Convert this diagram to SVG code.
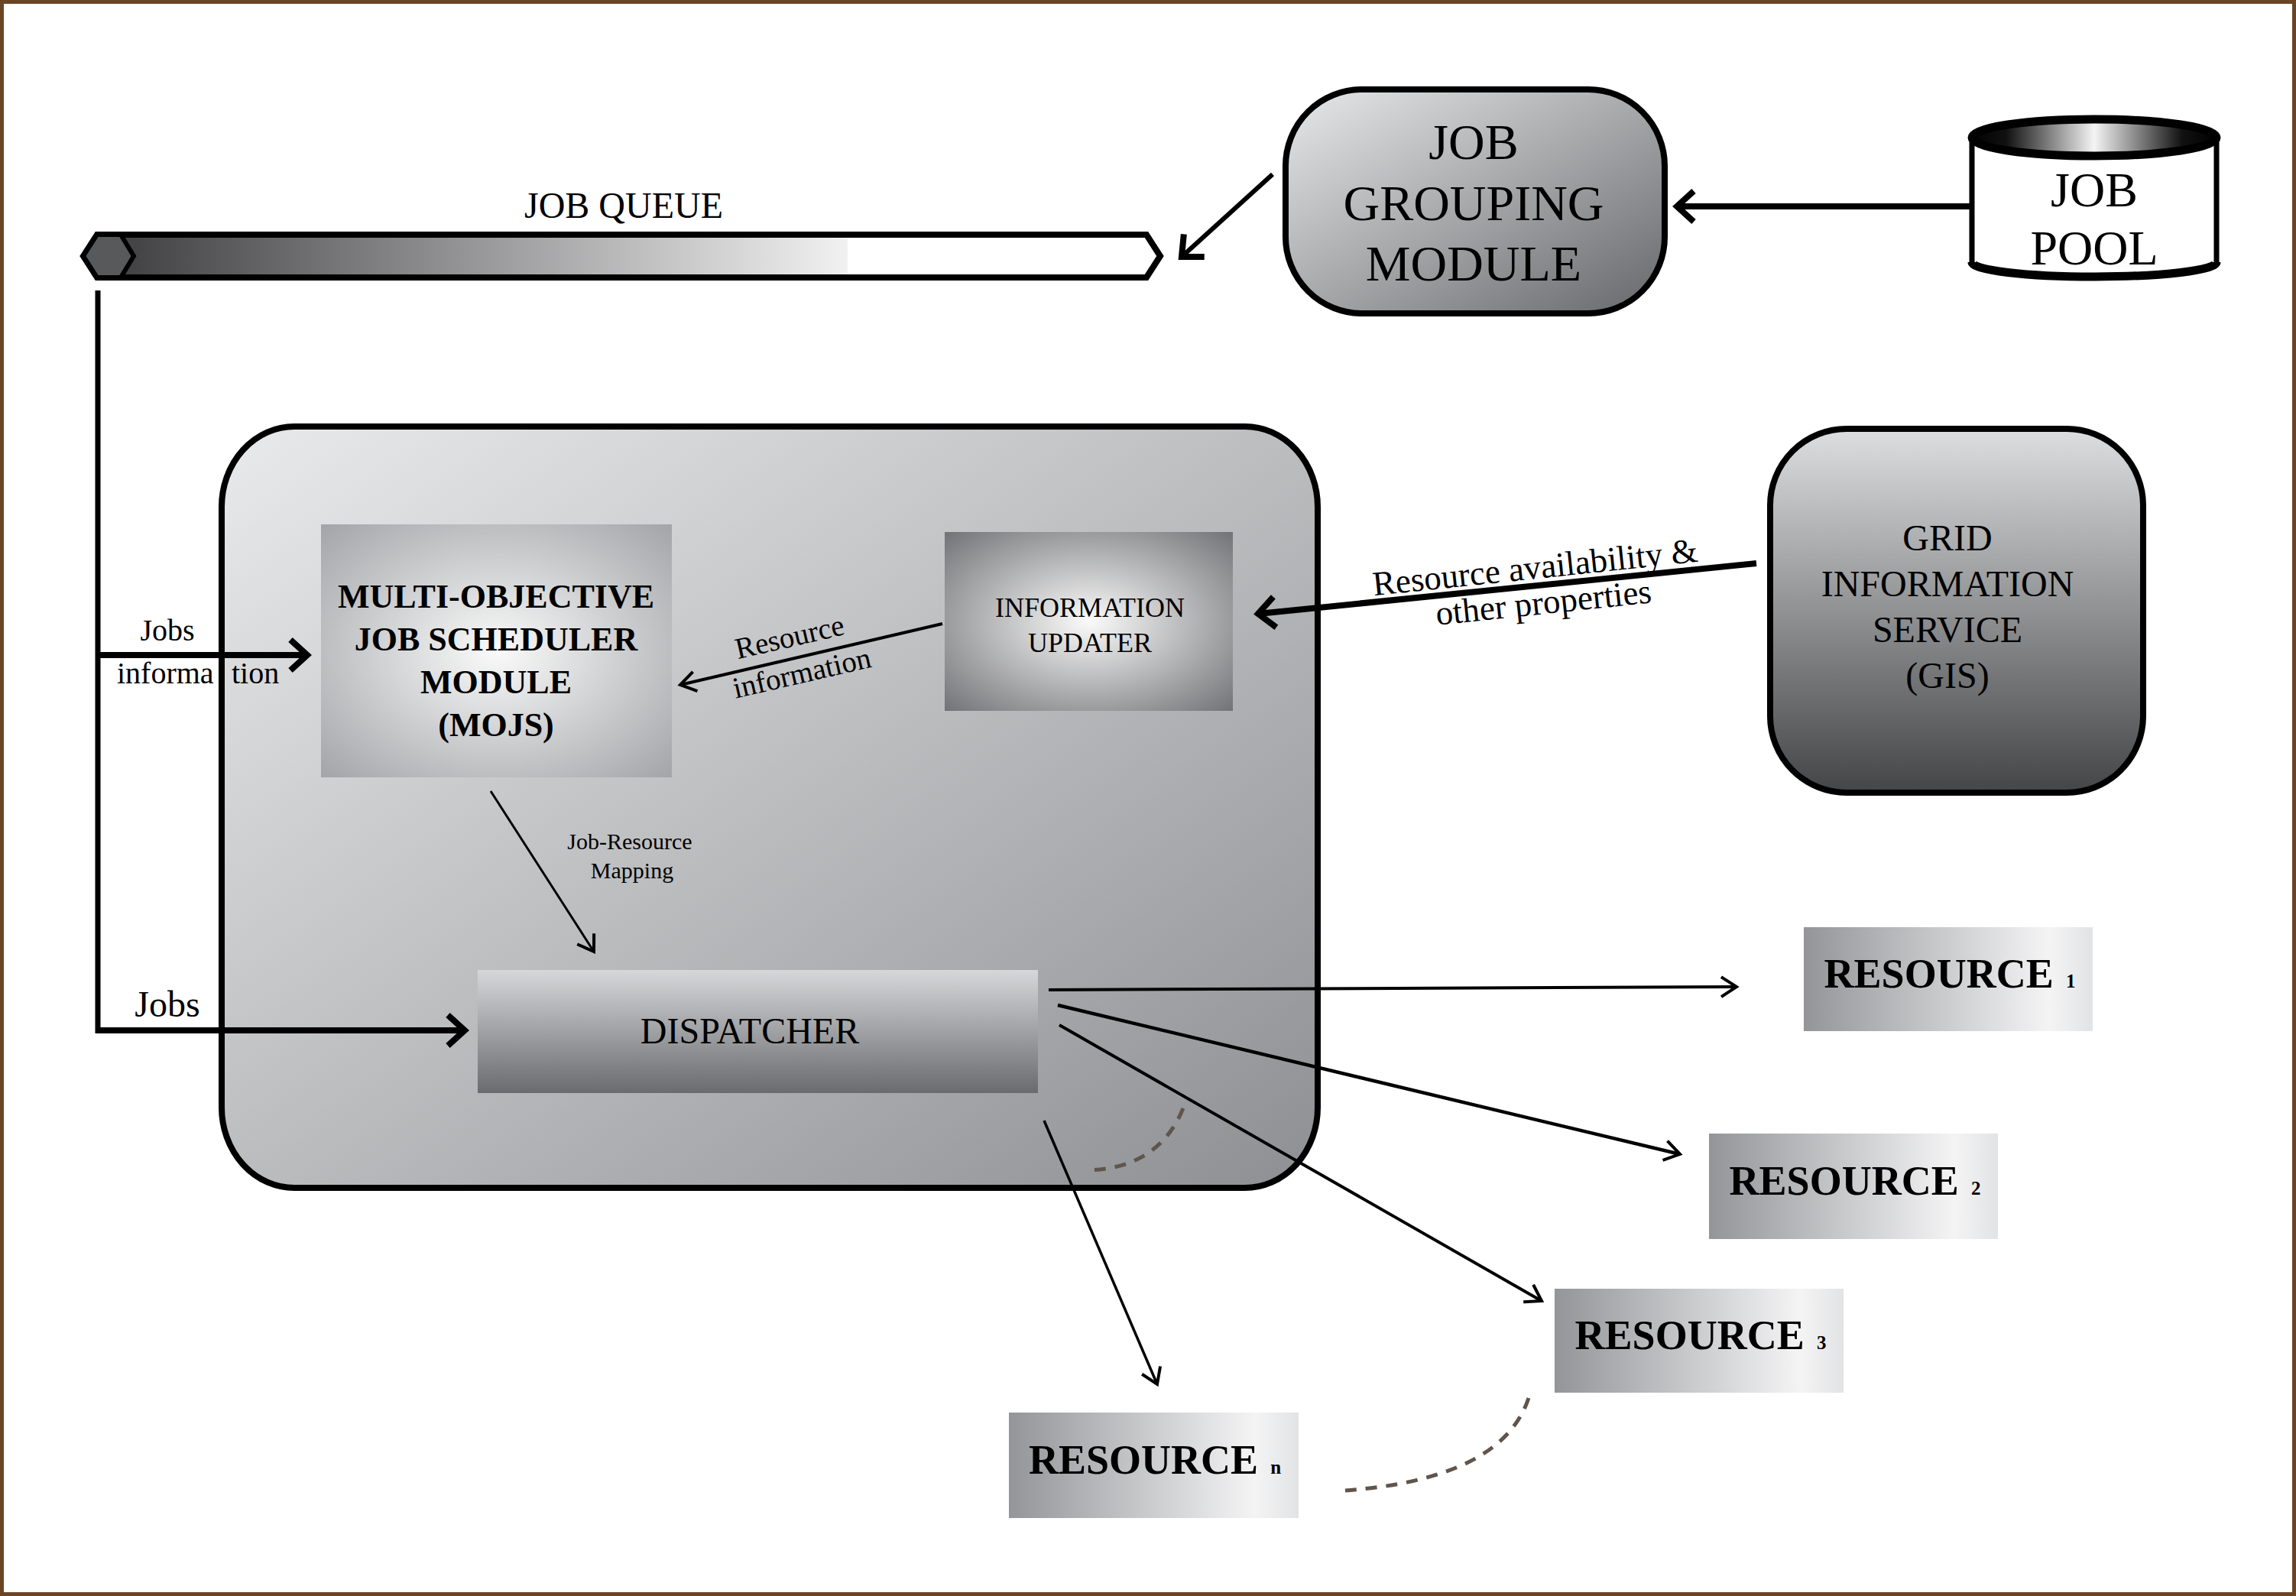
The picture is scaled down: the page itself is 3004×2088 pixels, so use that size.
<svg xmlns="http://www.w3.org/2000/svg" width="3004" height="2088" viewBox="0 0 3004 2088">
<style>
text{font-family:"Liberation Serif","Times New Roman",serif;fill:#000}
.c{text-anchor:middle}
.b{font-weight:bold}
.thick{fill:none;stroke:#000;stroke-width:8}
.thin{fill:none;stroke:#000;stroke-width:4}
.dash{fill:none;stroke:#5f554c;stroke-width:5;stroke-dasharray:15 12}
.res{fill:url(#gRes)}
.sub{font-size:25px}
</style>
<defs>
<marker id="aThick" markerUnits="userSpaceOnUse" markerWidth="60" markerHeight="60" viewBox="-30 -30 60 60" refX="0" refY="0" orient="auto"><path d="M-22,-20 L0,0 L-22,20" fill="none" stroke="#000" stroke-width="8"/></marker>
<marker id="aThin" markerUnits="userSpaceOnUse" markerWidth="50" markerHeight="50" viewBox="-25 -25 50 50" refX="0" refY="0" orient="auto"><path d="M-20,-13 L0,0 L-20,13" fill="none" stroke="#000" stroke-width="4"/></marker>
<linearGradient id="gQueue" gradientUnits="userSpaceOnUse" x1="175" y1="0" x2="1500" y2="0"><stop offset="0" stop-color="#444446"/><stop offset="0.705" stop-color="#f1f1f2"/><stop offset="0.705" stop-color="#ffffff"/><stop offset="1" stop-color="#ffffff"/></linearGradient>
<linearGradient id="gGroup" x1="0" y1="0" x2="1" y2="1"><stop offset="0" stop-color="#e8e9ea"/><stop offset="1" stop-color="#66676a"/></linearGradient>
<linearGradient id="gCont" x1="0" y1="0" x2="1" y2="1"><stop offset="0" stop-color="#e9eaeb"/><stop offset="1" stop-color="#8d8f92"/></linearGradient>
<linearGradient id="gGis" x1="0" y1="0" x2="0" y2="1"><stop offset="0" stop-color="#dddee0"/><stop offset="1" stop-color="#444547"/></linearGradient>
<linearGradient id="gDisp" x1="0" y1="0" x2="0" y2="1"><stop offset="0" stop-color="#d6d7d9"/><stop offset="1" stop-color="#6a6b6e"/></linearGradient>
<radialGradient id="gMojs" cx="0.5" cy="0.5" r="0.7"><stop offset="0" stop-color="#fafafa"/><stop offset="1" stop-color="#a3a5a8"/></radialGradient>
<radialGradient id="gInfo" cx="0.5" cy="0.5" r="0.7"><stop offset="0" stop-color="#fafafa"/><stop offset="1" stop-color="#737477"/></radialGradient>
<linearGradient id="gRes" x1="0" y1="0" x2="1" y2="0"><stop offset="0" stop-color="#939598"/><stop offset="0.85" stop-color="#f4f4f5"/><stop offset="1" stop-color="#e2e3e4"/></linearGradient>
<linearGradient id="gPoolTop" x1="0" y1="0" x2="1" y2="0"><stop offset="0" stop-color="#000"/><stop offset="0.14" stop-color="#111"/><stop offset="0.5" stop-color="#f4f4f4"/><stop offset="0.86" stop-color="#111"/><stop offset="1" stop-color="#000"/></linearGradient>
</defs>
<rect x="2.5" y="2.5" width="2999" height="2083" fill="#fff" stroke="#6b4423" stroke-width="5"/>

<g id="job-queue">
<path d="M127,307 L1500,307 L1518,335 L1500,363 L127,363 L109,335 Z" fill="url(#gQueue)" stroke="#000" stroke-width="8" stroke-linejoin="miter"/>
<path d="M127,307 L158,307 L175,335 L158,363 L127,363 L109,335 Z" fill="#58595b" stroke="#000" stroke-width="6"/>
<text class="c" x="816" y="285" font-size="48">JOB QUEUE</text>
</g>

<g id="job-grouping-module">
<rect x="1682" y="117" width="496" height="293" rx="100" ry="100" fill="url(#gGroup)" stroke="#000" stroke-width="8"/>
<text class="c" x="1928" y="208" font-size="66">JOB</text>
<text class="c" x="1928" y="288" font-size="66">GROUPING</text>
<text class="c" x="1928" y="367" font-size="66">MODULE</text>
</g>

<g id="job-pool">
<path d="M2580,180 L2580,343 A160,19 0 0 0 2900,343 L2900,180" fill="#fff" stroke="#000" stroke-width="7"/>
<path d="M2580,343 A160,19 0 0 0 2900,343" fill="none" stroke="#000" stroke-width="11"/>
<ellipse cx="2740" cy="180" rx="160" ry="24" fill="url(#gPoolTop)" stroke="#000" stroke-width="11"/>
<text class="c" x="2740" y="270" font-size="64">JOB</text>
<text class="c" x="2740" y="346" font-size="64">POOL</text>
</g>

<g id="scheduler-container">
<rect x="290" y="558" width="1434" height="996" rx="95" ry="105" fill="url(#gCont)" stroke="#000" stroke-width="8"/>
</g>

<g id="mojs">
<rect x="420" y="686" width="459" height="331" fill="url(#gMojs)"/>
<text class="c b" x="649" y="795" font-size="44">MULTI-OBJECTIVE</text>
<text class="c b" x="649" y="851" font-size="44">JOB SCHEDULER</text>
<text class="c b" x="649" y="907" font-size="44">MODULE</text>
<text class="c b" x="649" y="963" font-size="44">(MOJS)</text>
</g>

<g id="information-updater">
<rect x="1236" y="696" width="377" height="234" fill="url(#gInfo)"/>
<text class="c" x="1426" y="807" font-size="36">INFORMATION</text>
<text class="c" x="1426" y="853" font-size="36">UPDATER</text>
</g>

<g id="dispatcher">
<rect x="625" y="1269" width="733" height="161" fill="url(#gDisp)"/>
<text class="c" x="981" y="1365" font-size="48">DISPATCHER</text>
</g>

<g id="gis">
<rect x="2316" y="561" width="488" height="476" rx="100" ry="100" fill="url(#gGis)" stroke="#000" stroke-width="8"/>
<text class="c" x="2548" y="720" font-size="48">GRID</text>
<text class="c" x="2548" y="780" font-size="48">INFORMATION</text>
<text class="c" x="2548" y="840" font-size="48">SERVICE</text>
<text class="c" x="2548" y="900" font-size="48">(GIS)</text>
</g>

<g id="resource-1">
<rect class="res" x="2360" y="1213" width="378" height="136"/>
<text class="c b" x="2551" y="1292" font-size="54">RESOURCE<tspan class="sub" dx="10"> 1</tspan></text>
</g>
<g id="resource-2">
<rect class="res" x="2236" y="1483" width="378" height="138"/>
<text class="c b" x="2427" y="1563" font-size="54">RESOURCE<tspan class="sub" dx="10"> 2</tspan></text>
</g>
<g id="resource-3">
<rect class="res" x="2034" y="1686" width="378" height="136"/>
<text class="c b" x="2225" y="1765" font-size="54">RESOURCE<tspan class="sub" dx="10"> 3</tspan></text>
</g>
<g id="resource-n">
<rect class="res" x="1320" y="1848" width="379" height="138"/>
<text class="c b" x="1511" y="1928" font-size="54">RESOURCE<tspan class="sub" dx="10"> n</tspan></text>
</g>

<g id="connectors">
<path d="M1665,228 L1546,336" fill="none" stroke="#000" stroke-width="6" marker-end="url(#aThick)"/>
<path class="thick" d="M2578,270 L2194,270" marker-end="url(#aThick)"/>
<path d="M128,380 L128,1352" fill="none" stroke="#000" stroke-width="7"/>
<path class="thick" d="M128,857 L402,857" marker-end="url(#aThick)"/>
<path class="thick" d="M128,1348 L608,1348" marker-end="url(#aThick)"/>
<path class="thick" d="M2298,737 L1646,803" marker-end="url(#aThick)"/>
<path class="thin" d="M1233,816 L890,896" marker-end="url(#aThin)"/>
<path class="thin" style="stroke-width:3" d="M642,1035 L777,1245" marker-end="url(#aThin)"/>
<path class="thin" d="M1372,1295 L2272,1291" marker-end="url(#aThin)"/>
<path class="thin" style="stroke-width:4.5" d="M1384,1315 L2198,1510" marker-end="url(#aThin)"/>
<path class="thin" d="M1386,1341 L2017,1702" marker-end="url(#aThin)"/>
<path class="thin" style="stroke-width:3.5" d="M1366,1466 L1514,1811" marker-end="url(#aThin)"/>
<path class="dash" d="M1548,1450 Q1515,1530 1420,1531"/>
<path class="dash" d="M2000,1829 Q1965,1935 1760,1950"/>
</g>

<g id="labels">
<text class="c" x="219" y="838" font-size="40">Jobs</text>
<text x="153" y="894" font-size="40">informa</text>
<text x="303" y="894" font-size="40">tion</text>
<text class="c" x="219" y="1330" font-size="48">Jobs</text>
<text class="c" x="1036" y="846" font-size="39" transform="rotate(-13 1036 846)">Resource</text>
<text class="c" x="1052" y="893" font-size="39" transform="rotate(-13 1052 893)">information</text>
<text class="c" x="2010" y="757" font-size="45" transform="rotate(-6 2010 757)">Resource availability &amp;</text>
<text class="c" x="2021" y="803" font-size="45" transform="rotate(-6 2021 803)">other properties</text>
<text class="c" x="824" y="1111" font-size="30">Job-Resource</text>
<text class="c" x="827" y="1149" font-size="30">Mapping</text>
</g>
</svg>
